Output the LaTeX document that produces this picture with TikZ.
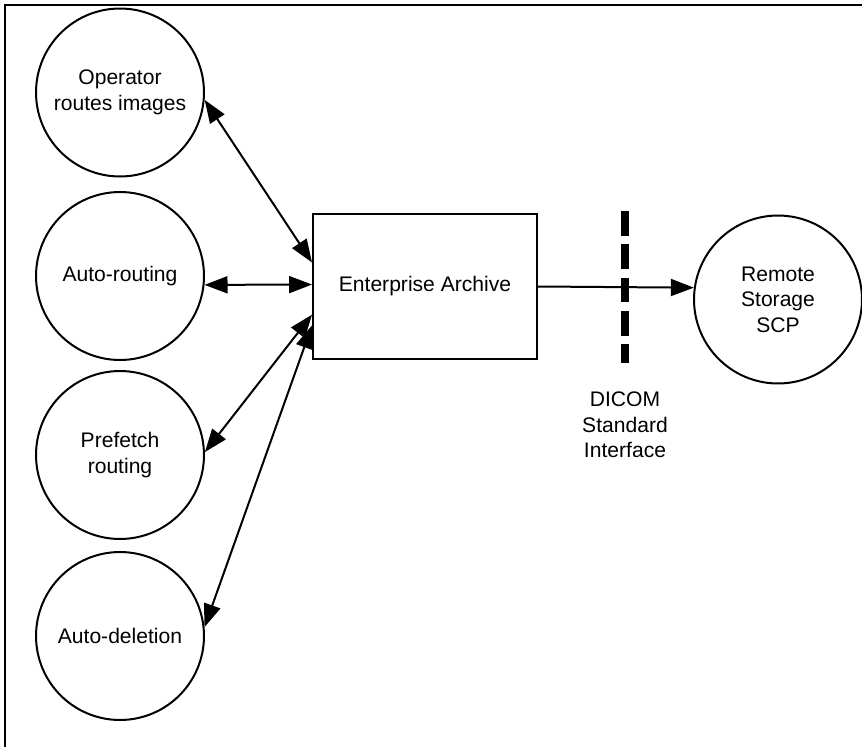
\documentclass[tikz,border=0pt]{standalone}
\usepackage{fontspec}
\setmainfont{Liberation Sans}
\usetikzlibrary{arrows.meta}

\begin{document}
\begin{tikzpicture}
[x=0.02cm,y=-0.02cm,>={Triangle[length=0.46cm,width=0.34cm]},
  every node/.style={font=\fontsize{12}{14.5}\selectfont},%
  lineDecorate/.style={<->,line width=0.04cm},%
  circleDecorate/.style={shape=circle,draw,line width=0.04cm,minimum size=3.36cm,inner sep=0pt,align=center},%
  boxDecorate/.style={shape=rectangle,draw,line width=0.04cm,minimum width=4.48cm,minimum height=2.9cm},%
  dashDecorate/.style={line width=0.166cm,dash pattern=on 0.494cm off 0.172cm}]
\useasboundingbox (0,0) rectangle (862,747);
%% frame
\draw[line width=0.05cm] (5,747) -- (5,5) -- (862,5);
%% nodes or vertices
\foreach \nodename/\x/\y/\nodetext in {
  Operator/120/92.5/Operator\\routes images, Autorouting/120/276/Auto-routing,
  Prefetch/120/455/Prefetch\\routing, Autodeletion/120/636/Auto-deletion,
  Remote/778/299.5/Remote\\Storage\\SCP}
{
  \node (\nodename) at (\x,\y) [circleDecorate] {\nodetext};
}
\node (Archive) at (425,286.5) [boxDecorate] {Enterprise Archive};
\node (Dicom) at (625,425) [align=center] {DICOM\\Standard\\Interface};
%% interface line
\coordinate (dashTop) at (625,211);
\coordinate (dashBottom) at (625,363);
\draw[dashDecorate] (dashTop) -- (dashBottom);
%% edges or lines
\path
\foreach \startnode/\endnode in {
  Operator.-5/Archive.168, Autorouting.-6/Archive.179,
  Prefetch.2/Archive.194, Autodeletion.6/Archive.199}
{
  (\startnode) edge[lineDecorate] (\endnode)
};
\draw[lineDecorate,->] (Archive.east) -- (Remote.172);
\end{tikzpicture}
\end{document}
